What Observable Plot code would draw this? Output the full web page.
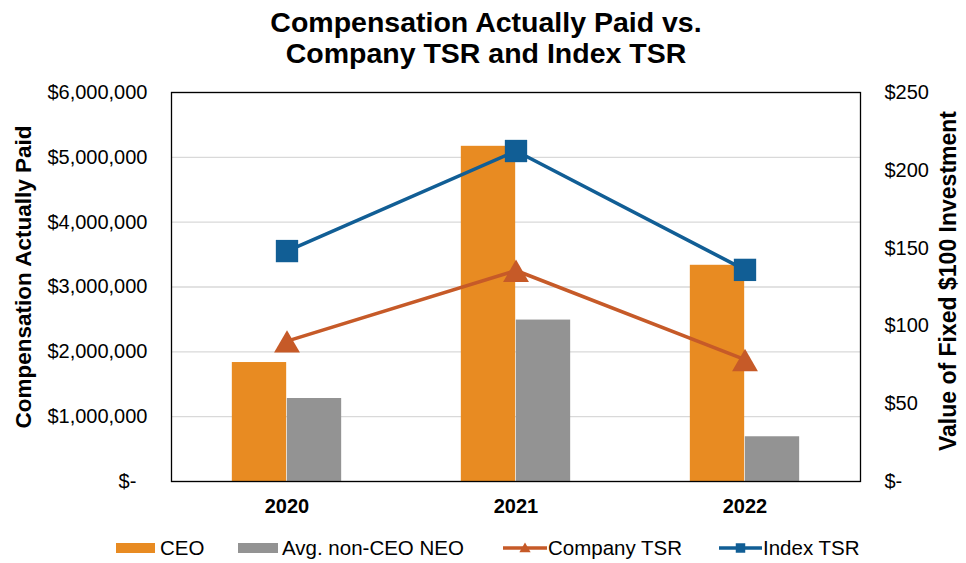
<!DOCTYPE html>
<html>
<head>
<meta charset="utf-8">
<script src="https://cdn.jsdelivr.net/npm/d3@7"></script>
<script src="https://cdn.jsdelivr.net/npm/@observablehq/plot@0.6"></script>
<style>
  html, body { margin: 0; padding: 0; background: #fff; }
  #wrap { position: relative; width: 966px; height: 563px; overflow: hidden; font-family: "Liberation Sans", Arial, sans-serif; color: #000; }
  #title { position: absolute; left: 0; top: 7px; width: 972px; text-align: center; font-weight: bold; font-size: 28.5px; line-height: 31px; z-index: 2; }
  #chart { position: absolute; left: 0; top: 0; }
  .lg { position: absolute; top: 538px; font-size: 20.5px; line-height: 20px; white-space: nowrap; }
  .sw { position: absolute; }
</style>
</head>
<body>
<div id="wrap">
  <div id="chart"></div>
  <div id="title">Compensation Actually Paid vs.<br>Company TSR and Index TSR</div>
  <div id="legend"></div>
</div>
<script>
// ---- data ----
const years = ["2020", "2021", "2022"];
const ceoPay = [1835000, 5170000, 3335000];
const neoPay = [1280000, 2490000, 690000];
const companyTSR = [90.2, 135.6, 78.3];
const indexTSR = [148.1, 212.4, 136.0];
const leftTicks = [0, 1000000, 2000000, 3000000, 4000000, 5000000, 6000000];
const rightTicks = [0, 50, 100, 150, 200, 250];
const seriesNames = ["CEO", "Avg. non-CEO NEO", "Company TSR", "Index TSR"];
const leftLabel = "Compensation Actually Paid";
const rightLabel = "Value of Fixed $100 Investment";

// ---- styles ----
const colors = { ceo: "#E88B22", neo: "#939393", company: "#C65A28", index: "#115E95" };
const W = 966, H = 563, mL = 171, mR = 106, mT = 92, mB = 82;
const bw = (W - mL - mR) / years.length;
const barW = 55;
const K = 6000000 / 250; // secondary axis ratio

const ceoRows = years.map((y, i) => ({ year: y, value: ceoPay[i] }));
const neoRows = years.map((y, i) => ({ year: y, value: neoPay[i] }));
const compRows = years.map((y, i) => ({ year: y, value: companyTSR[i] }));
const idxRows = years.map((y, i) => ({ year: y, value: indexTSR[i] }));

const fmtL = d => d === 0 ? "$-\u00a0\u00a0" : "$" + d3.format(",")(d);
const fmtR = d => d === 0 ? "$-" : "$" + d3.format(",")(Math.round(d / K));

const chart = Plot.plot({
  width: W, height: H,
  marginLeft: mL, marginRight: mR, marginTop: mT, marginBottom: mB,
  style: { fontFamily: "'Liberation Sans', Arial, sans-serif", fontSize: "20px", color: "#000", background: "transparent" },
  x: { type: "band", domain: years, padding: 0 },
  y: { domain: [0, 6000000] },
  marks: [
    Plot.gridY(leftTicks, { stroke: "#d9d9d9", strokeOpacity: 1, strokeWidth: 1.3 }),
    Plot.barY(ceoRows, { x: "year", y: "value", fill: colors.ceo, insetLeft: bw / 2 - barW, insetRight: bw / 2 }),
    Plot.barY(neoRows, { x: "year", y: "value", fill: colors.neo, insetLeft: bw / 2, insetRight: bw / 2 - barW }),
    Plot.frame({ stroke: "#000", strokeWidth: 1.3 }),
    Plot.line(compRows, { x: "year", y: d => d.value * K, stroke: colors.company, strokeWidth: 3.6 }),
    Plot.dot(compRows, { x: "year", y: d => d.value * K, symbol: "triangle", r: 9.6, fill: colors.company, stroke: null, dy: 4 }),
    Plot.line(idxRows, { x: "year", y: d => d.value * K, stroke: colors.index, strokeWidth: 3.6 }),
    Plot.dot(idxRows, { x: "year", y: d => d.value * K, symbol: "square", r: 12.6, fill: colors.index, stroke: null }),
    Plot.axisY(leftTicks, { anchor: "left", tickSize: 0, tickPadding: 24, tickFormat: fmtL, label: null, fontSize: 20 }),
    Plot.axisY(rightTicks.map(d => d * K), { anchor: "right", tickSize: 0, tickPadding: 24, tickFormat: fmtR, label: null, fontSize: 20 }),
    Plot.axisX({ tickSize: 0, tickPadding: 17, label: null, fontWeight: "bold", fontSize: 20 }),
    Plot.text([leftLabel], { frameAnchor: "left", textAnchor: "middle", dx: -148, dy: -10, rotate: -90, fontWeight: "bold", fontSize: 22.5 }),
    Plot.text([rightLabel], { frameAnchor: "right", textAnchor: "middle", dx: 88, dy: -6, rotate: -90, fontWeight: "bold", fontSize: 23 })
  ]
});
document.getElementById("chart").appendChild(chart);

// ---- legend ----
const legend = document.getElementById("legend");
const items = [
  { name: seriesNames[0], kind: "rect", color: colors.ceo, sx: 116, sw: 39, tx: 160 },
  { name: seriesNames[1], kind: "rect", color: colors.neo, sx: 238, sw: 40, tx: 282 },
  { name: seriesNames[2], kind: "tri", color: colors.company, sx: 503, sw: 44, tx: 548 },
  { name: seriesNames[3], kind: "sq", color: colors.index, sx: 719, sw: 43, tx: 763 }
];
items.forEach(it => {
  const svg = d3.create("svg").attr("class", "sw").attr("width", it.sw).attr("height", 20)
    .style("left", it.sx + "px").style("top", "538px");
  if (it.kind === "rect") {
    svg.append("rect").attr("x", 0).attr("y", 5).attr("width", it.sw).attr("height", 10).attr("fill", it.color);
  } else {
    svg.append("line").attr("x1", 0).attr("x2", it.sw).attr("y1", 10).attr("y2", 10)
      .attr("stroke", it.color).attr("stroke-width", 3.6);
    const sym = it.kind === "tri" ? d3.symbolTriangle : d3.symbolSquare;
    const size = it.kind === "tri" ? 55 : 90;
    svg.append("path").attr("d", d3.symbol(sym, size)())
      .attr("transform", `translate(${it.sw / 2},${it.kind === "tri" ? 11 : 10})`).attr("fill", it.color);
  }
  legend.appendChild(svg.node());
  const t = document.createElement("div");
  t.className = "lg";
  t.style.left = it.tx + "px";
  t.textContent = it.name;
  legend.appendChild(t);
});
</script>
</body>
</html>
